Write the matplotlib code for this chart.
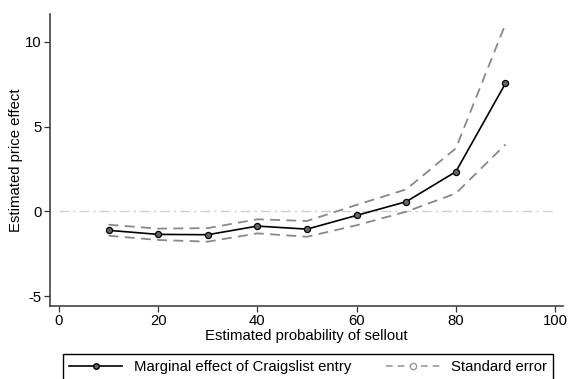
import matplotlib
matplotlib.use('Agg')
import matplotlib.pyplot as plt
from matplotlib.lines import Line2D

plt.rcParams['font.family'] = ['Liberation Sans', 'DejaVu Sans']
plt.rcParams['axes.unicode_minus'] = False

# ------------------ DATA ------------------
sellout_prob = [10, 20, 30, 40, 50, 60, 70, 80, 90]
marginal_effect = [-1.12, -1.36, -1.38, -0.87, -1.05, -0.24, 0.57, 2.34, 7.55]
se_upper = [-0.79, -1.02, -0.99, -0.47, -0.57, 0.38, 1.30, 3.72, 11.06]
se_lower = [-1.44, -1.69, -1.79, -1.30, -1.50, -0.82, -0.02, 1.06, 3.95]

x_ticks = [0, 20, 40, 60, 80, 100]
y_ticks = [-5, 0, 5, 10]
# ------------------------------------------

fs = 10.7

fig = plt.figure(figsize=(5.7, 3.79), dpi=100)
ax = fig.add_axes([50 / 570, 1 - 305.7 / 379, 513 / 570, (305.7 - 14) / 379])

# zero reference line
ax.plot([0, 100], [0, 0], color='#d0d0d0', linewidth=1.0,
        dashes=(7, 3, 1.5, 3), zorder=1)

se_style = dict(color='#888888', linewidth=1.3, dashes=(5.5, 3.5))
ax.plot(sellout_prob, se_upper, **se_style, zorder=2)
ax.plot(sellout_prob, se_lower, **se_style, zorder=2)

ax.plot(sellout_prob, marginal_effect, color='black', linewidth=1.2,
        marker='o', markersize=4.4, markerfacecolor='#666666',
        markeredgecolor='black', markeredgewidth=0.9, zorder=3)

ax.set_xlim(-1.8, 101.6)
ax.set_ylim(-5.57, 11.65)
ax.set_xticks(x_ticks)
ax.set_yticks(y_ticks)

for side in ['top', 'right']:
    ax.spines[side].set_visible(False)
for side in ['left', 'bottom']:
    ax.spines[side].set_color('#444444')
    ax.spines[side].set_linewidth(1.2)

ax.tick_params(axis='both', direction='out', length=4, width=0.9,
               color='#333333', labelsize=fs, pad=2)
ax.set_xlabel('Estimated probability of sellout', fontsize=fs, labelpad=1)
ax.set_ylabel('Estimated price effect', fontsize=fs)
ax.yaxis.set_label_coords(-0.052, 0.5)

# legend
h_main = Line2D([], [], color='black', linewidth=1.2, marker='o',
                markersize=4, markerfacecolor='#666666', markeredgecolor='black')
h_se = Line2D([], [], color='#999999', linewidth=1.2, dashes=(4, 3),
              marker='o', markersize=4.5, markerfacecolor='white',
              markeredgecolor='#999999')
leg = fig.legend([h_main, h_se],
                 ['Marginal effect of Craigslist entry', 'Standard error'],
                 loc='upper left',
                 bbox_to_anchor=(63 / 570, 0, 490 / 570, 1 - 354 / 379),
                 mode='expand', ncol=2, numpoints=1, fontsize=fs,
                 handlelength=3.6, handletextpad=0.75, borderaxespad=0,
                 fancybox=False, edgecolor='black', framealpha=1)
leg.get_frame().set_linewidth(1.0)

fig.savefig('out.png', dpi=100, facecolor='white')
